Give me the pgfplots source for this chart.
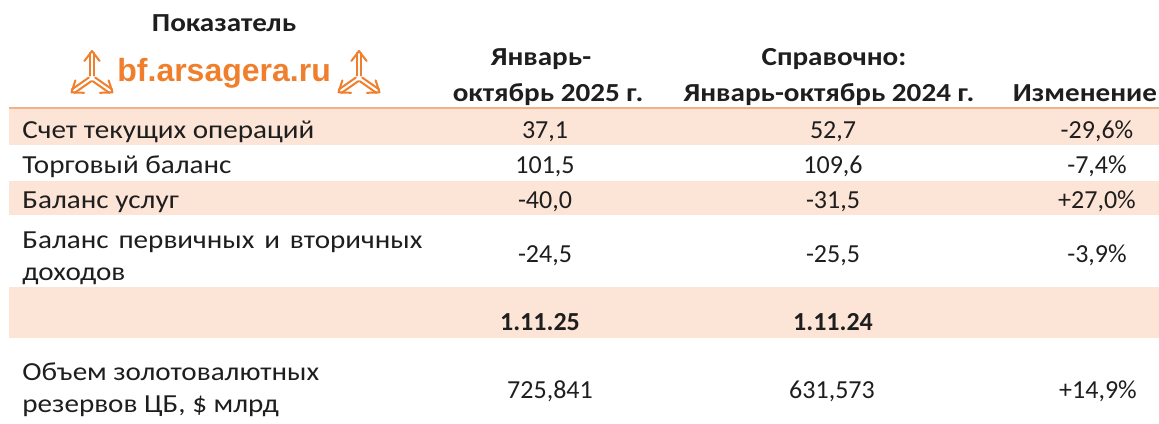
\documentclass[border=0pt]{standalone}
\usepackage{fontspec}
\setmainfont{Carlito}[FakeStretch=1.12]
\newfontfamily\numfont{Carlito}
\newfontfamily\logofont{Liberation Sans}
\usepackage{pgfplots}
\usepackage{pgfplotstable}
\pgfplotsset{compat=1.18}
\definecolor{rowshade}{HTML}{FCE4D6}
\definecolor{ruleline}{HTML}{F4B183}
\definecolor{logoorange}{HTML}{F07F2D}
\definecolor{txt}{HTML}{1E1E1E}

% y = baseline of the row (px from top)
\pgfplotstableread{
y   v25    v24    chg
138 37.1   52.7   -29.6
173 101.5  109.6  -7.4
208 -40.0  -31.5  27.0
262 -24.5  -25.5  -3.9
}\balance
\pgfplotstableread{
y   v25      v24      chg
398 725.841  631.573  14.9
}\reserves

\pgfplotsset{
  cell/.style={draw=none, mark=none, point meta=explicit,
    every node near coord/.append style={anchor=base, inner sep=0pt,
      font=\numfont\fontsize{13}{15}\selectfont, text=txt}},
  numcol/.style={cell, nodes near coords={\pgfmathprintnumber[fixed,fixed zerofill,precision=#1,use comma,assume math mode=true]{\pgfplotspointmeta}}},
  pctcol/.style={cell, nodes near coords={\pgfmathprintnumber[fixed,fixed zerofill,precision=1,use comma,showpos,assume math mode=true]{\pgfplotspointmeta}\%}},
}

\begin{document}
\begin{tikzpicture}[
  lbl/.style={anchor=base west, inner sep=0pt, font=\fontsize{13}{15}\selectfont, text=txt},
  hdr/.style={anchor=base, inner sep=0pt, font=\fontsize{13}{15}\selectfont\bfseries, text=txt}]
\begin{axis}[scale only axis, width=579.5pt, height=211.5pt,
  xmin=0, xmax=1159, ymin=0, ymax=423, y dir=reverse,
  hide axis, clip=false]

% shaded rows and rule
\addplot[fill=rowshade, draw=none] coordinates {(9,109) (1159,109) (1159,145) (9,145)} -- cycle;
\addplot[fill=rowshade, draw=none] coordinates {(9,181) (1159,181) (1159,215) (9,215)} -- cycle;
\addplot[fill=rowshade, draw=none] coordinates {(9,287) (1159,287) (1159,338) (9,338)} -- cycle;
\addplot[ruleline, line width=1pt] coordinates {(9,108) (1159,108)};

% header
\node[hdr] at (axis cs:224,32) {Показатель};
\node[hdr] at (axis cs:541,65) {Январь-};
\node[hdr] at (axis cs:548,101) {октябрь 2025 г.};
\node[hdr] at (axis cs:834,65) {Справочно:};
\node[hdr] at (axis cs:829,101) {Январь-октябрь 2024 г.};
\node[hdr] at (axis cs:1085,101) {Изменение};
\node[anchor=base west, inner sep=0pt, text=logoorange,
  font=\logofont\bfseries\fontsize{16}{18}\selectfont] at (axis cs:117,81) {bf.arsagera.ru};
\coordinate (logoA) at (axis cs:92,78);
\coordinate (logoB) at (axis cs:359,78);

% row labels
\node[lbl] at (axis cs:22,138) {Счет текущих операций};
\node[lbl] at (axis cs:22,173) {Торговый баланс};
\node[lbl] at (axis cs:22,208) {Баланс услуг};
\node[lbl] at (axis cs:22,248) {\makebox[200pt][s]{Баланс первичных и вторичных}};
\node[lbl] at (axis cs:22,280) {доходов};
\node[hdr, font=\numfont\fontsize{13}{15}\selectfont\bfseries] at (axis cs:540,330) {1.11.25};
\node[hdr, font=\numfont\fontsize{13}{15}\selectfont\bfseries] at (axis cs:833,330) {1.11.24};
\node[lbl] at (axis cs:22,380) {Объем золотовалютных};
\node[lbl] at (axis cs:22,412) {резервов ЦБ, \$ млрд};

% values
\addplot[numcol=1] table[x expr=545, y=y, meta=v25] {\balance};
\addplot[numcol=1] table[x expr=833, y=y, meta=v24] {\balance};
\addplot[pctcol] table[x expr=1097, y=y, meta=chg] {\balance};
\addplot[numcol=3] table[x expr=550, y=y, meta=v25] {\reserves};
\addplot[numcol=3] table[x expr=832, y=y, meta=v24] {\reserves};
\addplot[pctcol] table[x expr=1098, y=y, meta=chg] {\reserves};

\coordinate (bbA) at (axis cs:0,423);
\coordinate (bbB) at (axis cs:1159,0);
\end{axis}

% logo marks
\foreach \c in {logoA,logoB} {
  \begin{scope}[shift={(\c)}, x=1pt, y=1pt, draw=logoorange, line width=1pt, line cap=round, line join=round]
    \foreach \a/\l in {90/12.5, 215/11.5, 325/11.5} {
      \begin{scope}[rotate=\a]
        \draw (1.2,1.1) -- (\l,1.1);
        \draw (1.2,-1.1) -- (\l,-1.1);
        \draw (\l-4,3.8) -- (\l+1,0) -- (\l-4,-3.8);
      \end{scope}
    }
  \end{scope}
}

\pgfresetboundingbox
\path (bbA) rectangle (bbB);
\end{tikzpicture}
\end{document}
